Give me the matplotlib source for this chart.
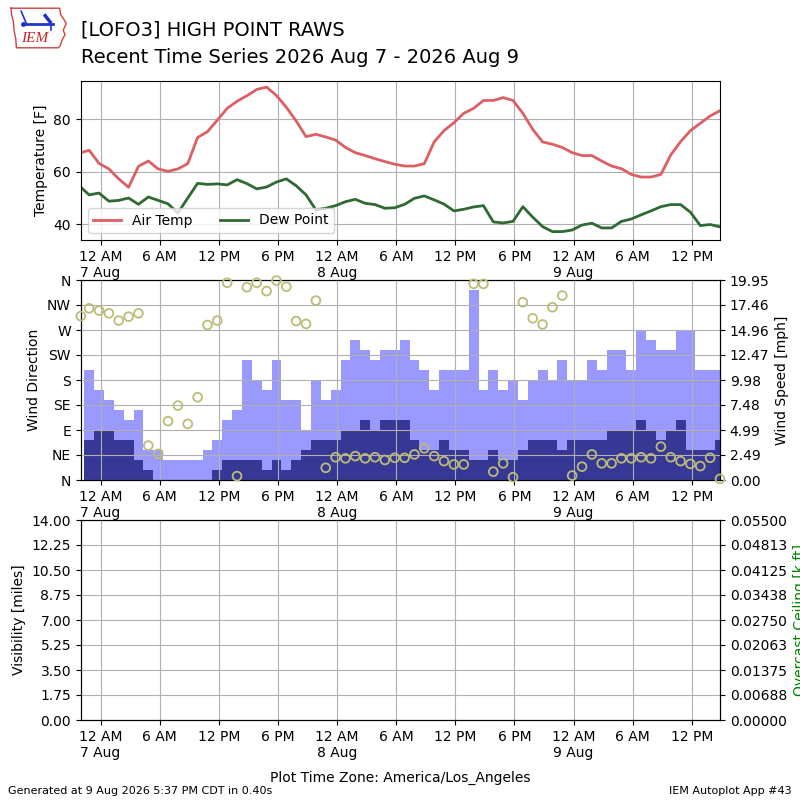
import matplotlib
matplotlib.use("Agg")
import matplotlib.pyplot as plt
import matplotlib.dates as mdates
import numpy as np
import pandas as pd

# ---------------- data ----------------
first_time = pd.Timestamp("2026-08-06 22:00")
hourly_times = pd.date_range("2026-08-06 22:51", "2026-08-09 14:51", freq="h")
times = [first_time] + list(hourly_times)

air_temp = [67.3, 68.2, 63.2, 61.1, 57.3, 54.1, 62.1, 64.1, 61.1, 60.2, 61.1,
            63.1, 73.1, 75.3, 79.7, 84.2, 86.9, 89.0, 91.4, 92.3, 89.1, 84.6,
            79.4, 73.4, 74.3, 73.3, 72.1, 69.3, 67.3, 66.2, 65.0, 63.9, 62.9,
            62.2, 62.2, 63.1, 71.4, 75.7, 78.7, 82.3, 84.2, 87.2, 87.2, 88.3,
            87.2, 82.3, 76.2, 71.4, 70.5, 69.3, 67.3, 66.2, 66.2, 64.1, 62.2,
            61.2, 59.0, 58.0, 58.0, 59.0, 66.4, 71.5, 75.7, 78.5, 81.3, 83.3]
dew_point = [54.1, 51.2, 51.9, 48.8, 49.1, 50.0, 47.6, 50.4, 49.1, 47.8, 44.3,
             50.0, 55.6, 55.2, 55.4, 55.0, 57.0, 55.5, 53.5, 54.2, 56.1, 57.3,
             54.7, 51.2, 45.5, 46.1, 47.1, 48.6, 49.5, 48.0, 47.5, 46.1, 46.3,
             47.6, 49.9, 50.8, 49.3, 47.7, 45.1, 45.7, 46.6, 47.1, 40.9, 40.5,
             41.1, 46.7, 42.7, 39.1, 37.2, 37.2, 37.8, 39.7, 40.4, 38.6, 38.6,
             41.1, 42.0, 43.6, 45.1, 46.7, 47.5, 47.5, 44.6, 39.5, 39.9, 39.0]

# wind (first observation has no wind speed report)
wind_gust = [np.nan,
             11, 9, 8, 7, 6, 7, 3, 3, 2, 2, 2, 2, 3, 4, 6, 7,
             12, 10, 9, 12, 8, 8, 5, 10, 8, 9, 12, 14, 13, 12, 13, 13,
             14, 12, 11, 9, 11, 11, 11, 19, 9, 11, 9, 10, 8, 10, 11, 10,
             12, 10, 10, 12, 11, 13, 13, 11, 15, 14, 13, 13, 15, 15, 11, 11, 11]
wind_speed = [np.nan,
              4, 5, 5, 4, 4, 2, 1, 0, 0, 0, 0, 0, 0, 1, 2, 2,
              2, 2, 1, 2, 1, 2, 3, 4, 4, 4, 5, 5, 6, 5, 6, 6,
              6, 4, 3, 3, 4, 3, 3, 2, 2, 3, 2, 2, 3, 4, 4, 4,
              3, 4, 4, 4, 4, 5, 5, 5, 6, 5, 4, 5, 6, 3, 3, 3, 4]
wind_dir = [295, 309, 305, 300, 287, 294, 300, 62, 47, 106, 134, 101, 149,
            279, 287, 355, 7, 347, 355, 340, 359, 348, 286, 281, 323, 22, 41,
            39, 43, 39, 41, 36, 40, 40, 46, 57, 43, 34, 28, 28, 353, 353, 15,
            30, 5, 320, 291, 280, 311, 332, 8, 24, 46, 30, 30, 39, 39, 41, 39,
            60, 41, 34, 29, 25, 40, 2]

tick_times = pd.date_range("2026-08-07 00:00", "2026-08-09 12:00", freq="6h")
tick_labels = ["12 AM\n7 Aug", "6 AM", "12 PM", "6 PM",
               "12 AM\n8 Aug", "6 AM", "12 PM", "6 PM",
               "12 AM\n9 Aug", "6 AM", "12 PM"]
dir_ticks = [0, 45, 90, 135, 180, 225, 270, 315, 360]
dir_labels = ["N", "NE", "E", "SE", "S", "SW", "W", "NW", "N"]
speed_tick_labels = ["0.00", "2.49", "4.99", "7.48", "9.98", "12.47",
                     "14.96", "17.46", "19.95"]
speed_max = 19.95
vis_tick_labels = ["0.00", "1.75", "3.50", "5.25", "7.00", "8.75",
                   "10.50", "12.25", "14.00"]
vis_max = 14.0
ceil_tick_labels = ["0.00000", "0.00688", "0.01375", "0.02063", "0.02750",
                    "0.03438", "0.04125", "0.04813", "0.05500"]
ceil_max = 0.055

# ---------------- plot ----------------
tnum = mdates.date2num([t.to_pydatetime() for t in times])
ticknum = mdates.date2num([t.to_pydatetime() for t in tick_times])
gust = np.array(wind_gust, dtype=float)
spd = np.array(wind_speed, dtype=float)
ok = ~np.isnan(gust)

fig = plt.figure(figsize=(8, 8), dpi=100)

L, W = 0.101, 0.799
ax1 = fig.add_axes([L, 0.70, W, 0.199])
ax2 = fig.add_axes([L, 0.40, W, 0.25])
ax3 = fig.add_axes([L, 0.10, W, 0.25])

for ax in (ax1, ax2, ax3):
    ax.set_xlim(tnum[0], tnum[-1])
    ax.set_xticks(ticknum)
    ax.set_xticklabels(tick_labels)

# Temperature panel
ax1.plot(tnum, air_temp, color="#dc5f64", lw=2, label="Air Temp")
ax1.plot(tnum, dew_point, color="#2f6a32", lw=2, label="Dew Point")
ax1.set_ylim(34.0, 94.7)
ax1.set_yticks([40, 60, 80])
ax1.set_ylabel("Temperature [F]")
ax1.grid(True)
ax1.legend(loc="lower left", ncol=2)

# Wind panel
ax2b = ax2.twinx()
ax2b.bar(tnum[ok], gust[ok], width=1 / 24.0, color="#9999ff", align="center")
ax2b.bar(tnum[ok], spd[ok], width=1 / 24.0, color="#373796", align="center")
ax2b.set_ylim(0, speed_max)
ax2b.set_yticks(np.linspace(0, speed_max, len(speed_tick_labels)))
ax2b.set_yticklabels(speed_tick_labels)
ax2b.set_ylabel("Wind Speed [mph]")
ax2.set_zorder(ax2b.get_zorder() + 1)
ax2.patch.set_visible(False)
ax2.scatter(tnum, wind_dir, s=40, facecolors="none", edgecolors="#bcbc78",
            linewidths=1.3, zorder=5, clip_on=False)
ax2.set_ylim(0, 360)
ax2.set_yticks(dir_ticks)
ax2.set_yticklabels(dir_labels)
ax2.set_ylabel("Wind Direction")
ax2.grid(True)
ax2.set_xlim(tnum[0], tnum[-1])

# Visibility / ceiling panel
ax3.set_ylim(0, vis_max)
ax3.set_yticks(np.linspace(0, vis_max, len(vis_tick_labels)))
ax3.set_yticklabels(vis_tick_labels)
ax3.set_ylabel("Visibility [miles]")
ax3.grid(True)
ax3b = ax3.twinx()
ax3b.set_ylim(0, ceil_max)
ax3b.set_yticks(np.linspace(0, ceil_max, len(ceil_tick_labels)))
ax3b.set_yticklabels(ceil_tick_labels)
ax3b.set_ylabel("Overcast Ceiling [k ft]", color="green")
ax3.set_xlabel("Plot Time Zone: America/Los_Angeles", labelpad=8)

# Titles and footer
fig.text(0.101, 0.955, "[LOFO3] HIGH POINT RAWS", fontsize=14, va="baseline")
fig.text(0.101, 0.921, "Recent Time Series 2026 Aug 7 - 2026 Aug 9",
         fontsize=14, va="baseline")
fig.text(0.01, 0.005, "Generated at 9 Aug 2026 5:37 PM CDT in 0.40s",
         fontsize=8, va="bottom")
fig.text(0.99, 0.005, "IEM Autoplot App #43", fontsize=8, va="bottom",
         ha="right")

# Simple IEM logo
lax = fig.add_axes([8 / 800, 1 - 50 / 800, 60 / 800, 44 / 800])
lax.set_xlim(0, 1)
lax.set_ylim(0, 1)
lax.axis("off")
iowa_x = [0.05, 0.86, 0.88, 0.93, 0.97, 0.92, 0.95, 0.90, 0.87, 0.84, 0.14,
          0.13, 0.10, 0.09, 0.06, 0.05]
iowa_y = [0.95, 0.95, 0.80, 0.70, 0.60, 0.45, 0.35, 0.22, 0.10, 0.05, 0.05,
          0.25, 0.45, 0.65, 0.80, 0.95]
lax.plot(iowa_x, iowa_y, color="#d04040", lw=1.0)
lax.plot([0.28, 0.75], [0.58, 0.58], color="#2233cc", lw=2)
lax.plot([0.22, 0.30], [0.88, 0.62], color="#2233cc", lw=1.2)
lax.plot([0.62, 0.70], [0.78, 0.64], color="#2233cc", lw=2.5)
lax.plot([0.72, 0.72], [0.62, 0.45], color="#2233cc", lw=1.2)
lax.plot([0.25], [0.58], marker="o", ms=2.5, color="#2233cc")
lax.text(0.45, 0.12, "IEM", color="#cc2222", fontsize=11, ha="center",
         va="bottom", family="Liberation Serif", style="italic")

fig.savefig("out.png", dpi=100)
